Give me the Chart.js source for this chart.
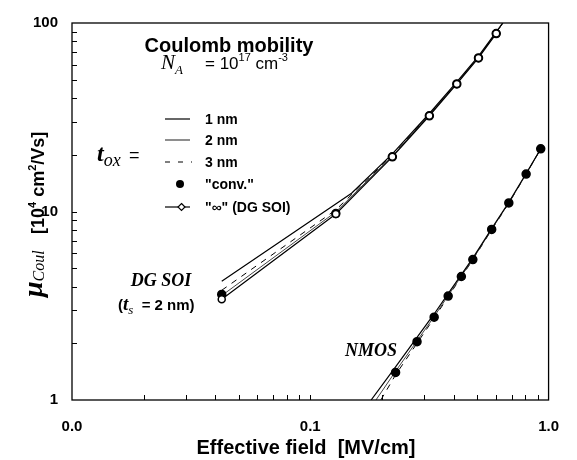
<!DOCTYPE html>
<html>
<head>
<meta charset="utf-8">
<script src="https://cdn.jsdelivr.net/npm/chart.js@4.4.1/dist/chart.umd.min.js"></script>
<style>
  html, body { margin: 0; padding: 0; background: #fff; }
  #wrap { width: 577px; height: 460px; }
</style>
</head>
<body>
<div id="wrap"><canvas id="mobChart" width="577" height="460"></canvas></div>
<script>
// DG SOI (t_s = 2 nm)
const dgX = [0.0425, 0.128, 0.221, 0.316, 0.412, 0.508, 0.603];
const dgInfY = [3.42, 9.70, 19.5, 32.2, 47.5, 65.3, 87.9];
const dgConvY = [3.63, 9.75, 19.5, 32.2, 47.5, 65.3, 87.9];
const dg1X = [0.0425, 0.149, 0.221, 0.316, 0.412, 0.508, 0.603, 0.66];
const dg1Y = [4.27, 12.5, 20.2, 33.1, 48.7, 66.7, 89.7, 105];
const dg2X = [0.0425, 0.128, 0.221, 0.316, 0.412, 0.508, 0.603, 0.66];
const dg2Y = [3.58, 9.95, 19.7, 32.5, 47.9, 65.8, 88.6, 105];
const dg3Y = [3.82, 10.2, 19.9, 32.6, 48.0, 66.0, 88.8, 105];

// NMOS
const nmosX = [0.228, 0.2805, 0.331, 0.379, 0.4305, 0.481, 0.577, 0.681, 0.805, 0.927];
const nmosConvY = [1.40, 2.04, 2.75, 3.56, 4.52, 5.56, 8.03, 11.1, 15.8, 21.5];
const nmos1X = [0.180].concat(nmosX);
const nmos1Y = [1.0, 1.50, 2.15, 2.86, 3.67, 4.62, 5.66, 8.12, 11.2, 15.9, 21.5];
const nmos2X = [0.1886].concat(nmosX);
const nmos2Y = [1.0, 1.42, 2.06, 2.77, 3.58, 4.54, 5.58, 8.05, 11.1, 15.8, 21.5];
const nmos3X = [0.1977].concat(nmosX);
const nmos3Y = [1.0, 1.36, 2.00, 2.72, 3.53, 4.50, 5.54, 8.00, 11.05, 15.75, 21.5];

const xTicks = [0.01, 0.1, 1];
const yTicks = [1, 10, 100];

const SANS = '"Liberation Sans", Arial, sans-serif';
const SERIF = '"Liberation Serif", "Times New Roman", serif';

const zip = (xs, ys) => xs.map((x, i) => ({ x: x, y: ys[i] }));

const lineSet = (label, xs, ys, color, width, dash) => ({
    label: label,
    data: zip(xs, ys),
    showLine: true,
    borderColor: color,
    borderWidth: width,
    borderDash: dash || [],
    pointRadius: 0,
    tension: 0
});

const dotSet = (label, xs, ys, filled) => ({
    label: label,
    data: zip(xs, ys),
    showLine: !filled,
    borderColor: '#000',
    borderWidth: filled ? 1 : 1.2,
    pointBorderWidth: 1.5,
    pointRadius: filled ? 4 : 3.5,
    pointBackgroundColor: filled ? '#000' : '#fff',
    pointBorderColor: '#000',
    tension: 0
});

// draw a run of text pieces with different fonts / offsets
function rich(ctx, x, y, parts, align) {
    let w = 0;
    parts.forEach(p => { ctx.font = p.f; w += ctx.measureText(p.t).width; });
    let cx = align === 'center' ? x - w / 2 : x;
    parts.forEach(p => {
        ctx.font = p.f;
        ctx.fillText(p.t, cx, y + (p.dy || 0));
        cx += ctx.measureText(p.t).width;
    });
}

const decor = {
    id: 'decor',
    afterDraw(chart) {
        const ctx = chart.ctx;
        const a = chart.chartArea;
        const xs = chart.scales.x, ys = chart.scales.y;
        ctx.save();
        ctx.strokeStyle = '#000';
        ctx.fillStyle = '#000';

        // frame
        ctx.lineWidth = 1.3;
        ctx.strokeRect(a.left, a.top, a.right - a.left, a.bottom - a.top);

        // inward ticks
        ctx.lineWidth = 1;
        ctx.beginPath();
        [0.01, 0.1].forEach(d => {
            for (let m = 2; m <= 10; m++) {
                const v = d * m;
                if (v >= 1) continue;
                const px = Math.round(xs.getPixelForValue(v)) + 0.5;
                ctx.moveTo(px, a.bottom);
                ctx.lineTo(px, a.bottom - 5);
            }
        });
        [1, 10].forEach(d => {
            for (let m = 2; m <= 10; m++) {
                const v = d * m;
                if (v >= 100) continue;
                const py = Math.round(ys.getPixelForValue(v)) + 0.5;
                ctx.moveTo(a.left, py);
                ctx.lineTo(a.left + 5, py);
            }
        });
        ctx.stroke();

        ctx.textBaseline = 'alphabetic';
        ctx.textAlign = 'left';

        // heading
        rich(ctx, 229, 52, [{ t: 'Coulomb mobility', f: 'bold 20px ' + SANS }], 'center');
        rich(ctx, 161, 69, [
            { t: 'N', f: 'italic 21px ' + SERIF },
            { t: 'A', f: 'italic 13px ' + SERIF, dy: 5 }
        ], 'left');
        rich(ctx, 205, 69, [
            { t: '= 10', f: '17px ' + SANS },
            { t: '17', f: '11px ' + SANS, dy: -8 },
            { t: ' cm', f: '17px ' + SANS },
            { t: '-3', f: '11px ' + SANS, dy: -8 }
        ], 'left');

        // t_ox =
        rich(ctx, 97, 161, [
            { t: 't', f: 'bold italic 24px ' + SERIF },
            { t: 'ox', f: 'italic 18px ' + SERIF, dy: 5 }
        ], 'left');
        rich(ctx, 129, 161, [{ t: '=', f: '18px ' + SANS }], 'left');

        // legend
        const rows = [119, 140, 162, 184, 207];
        const labels = ['1 nm', '2 nm', '3 nm', '"conv."', '"\u221E" (DG SOI)'];
        ctx.lineWidth = 1.2;
        ctx.beginPath(); ctx.moveTo(165, rows[0]); ctx.lineTo(190, rows[0]); ctx.stroke();
        ctx.strokeStyle = '#444';
        ctx.beginPath(); ctx.moveTo(165, rows[1]); ctx.lineTo(190, rows[1]); ctx.stroke();
        ctx.strokeStyle = '#000';
        ctx.setLineDash([5, 8]);
        ctx.beginPath(); ctx.moveTo(165, rows[2]); ctx.lineTo(192, rows[2]); ctx.stroke();
        ctx.setLineDash([]);
        ctx.beginPath(); ctx.arc(180, rows[3], 4, 0, Math.PI * 2); ctx.fill();
        ctx.beginPath(); ctx.moveTo(165, rows[4]); ctx.lineTo(190, rows[4]); ctx.stroke();
        ctx.fillStyle = '#fff';
        ctx.beginPath();
        ctx.moveTo(181.5, rows[4] - 3.5); ctx.lineTo(185, rows[4]);
        ctx.lineTo(181.5, rows[4] + 3.5); ctx.lineTo(178, rows[4]); ctx.closePath();
        ctx.fill(); ctx.stroke();
        ctx.fillStyle = '#000';
        labels.forEach((s, i) => rich(ctx, 205, rows[i] + 5, [{ t: s, f: 'bold 14px ' + SANS }], 'left'));

        // curve labels
        rich(ctx, 161, 286, [{ t: 'DG SOI', f: 'bold italic 18px ' + SERIF }], 'center');
        rich(ctx, 118, 310, [
            { t: '(', f: 'bold 15px ' + SANS },
            { t: 't', f: 'bold italic 19px ' + SERIF },
            { t: 's', f: 'italic 13px ' + SERIF, dy: 4 },
            { t: '  = 2 nm)', f: 'bold 15px ' + SANS }
        ], 'left');
        rich(ctx, 371, 356, [{ t: 'NMOS', f: 'bold italic 18px ' + SERIF }], 'center');

        // axis titles
        rich(ctx, 306, 454, [{ t: 'Effective field  [MV/cm]', f: 'bold 20px ' + SANS }], 'center');

        ctx.translate(44, 210);
        ctx.rotate(-Math.PI / 2);
        rich(ctx, -87, 0, [
            { t: '\u03BC', f: 'bold italic 28px ' + SERIF, dy: -2 },
            { t: 'Coul', f: 'italic 16px ' + SERIF, dy: 0 }
        ], 'left');
        rich(ctx, -24, 0, [
            { t: '[10', f: 'bold 18px ' + SANS },
            { t: '4', f: 'bold 11px ' + SANS, dy: -8 },
            { t: ' cm', f: 'bold 18px ' + SANS },
            { t: '2', f: 'bold 11px ' + SANS, dy: -8 },
            { t: '/Vs]', f: 'bold 18px ' + SANS }
        ], 'left');
        ctx.restore();
    }
};

new Chart(document.getElementById('mobChart'), {
    type: 'scatter',
    data: {
        datasets: [
            dotSet('DG inf', dgX, dgInfY, false),
            dotSet('DG conv.', dgX, dgConvY, true),
            dotSet('NMOS conv.', nmosX, nmosConvY, true),
            lineSet('DG 1 nm', dg1X, dg1Y, '#000', 1.2),
            lineSet('DG 2 nm', dg2X, dg2Y, '#444', 1),
            lineSet('DG 3 nm', dg2X, dg3Y, '#000', 1, [6, 6]),
            lineSet('NMOS 1 nm', nmos1X, nmos1Y, '#000', 1.2),
            lineSet('NMOS 2 nm', nmos2X, nmos2Y, '#444', 1),
            lineSet('NMOS 3 nm', nmos3X, nmos3Y, '#000', 1, [6, 6])
        ]
    },
    options: {
        responsive: false,
        animation: false,
        events: [],
        layout: { padding: { top: 19, right: 22, left: 0, bottom: 0 } },
        scales: {
            x: {
                type: 'logarithmic',
                min: 0.01,
                max: 1,
                afterBuildTicks: s => { s.ticks = xTicks.map(v => ({ value: v })); },
                afterFit: s => { s.height = 60; },
                grid: { display: false, drawTicks: false },
                border: { display: false },
                ticks: {
                    color: '#000',
                    font: { family: SANS, size: 15, weight: 'bold' },
                    padding: 18,
                    maxRotation: 0,
                    autoSkip: false,
                    callback: v => Number(v).toFixed(1)
                }
            },
            y: {
                type: 'logarithmic',
                min: 1,
                max: 100,
                afterBuildTicks: s => { s.ticks = yTicks.map(v => ({ value: v })); },
                afterFit: s => { s.width = 72; },
                grid: { display: false, drawTicks: false },
                border: { display: false },
                ticks: {
                    color: '#000',
                    font: { family: SANS, size: 15, weight: 'bold' },
                    padding: 14,
                    autoSkip: false,
                    callback: v => String(v)
                }
            }
        },
        plugins: {
            legend: { display: false },
            tooltip: { enabled: false }
        }
    },
    plugins: [decor]
});
</script>
</body>
</html>
